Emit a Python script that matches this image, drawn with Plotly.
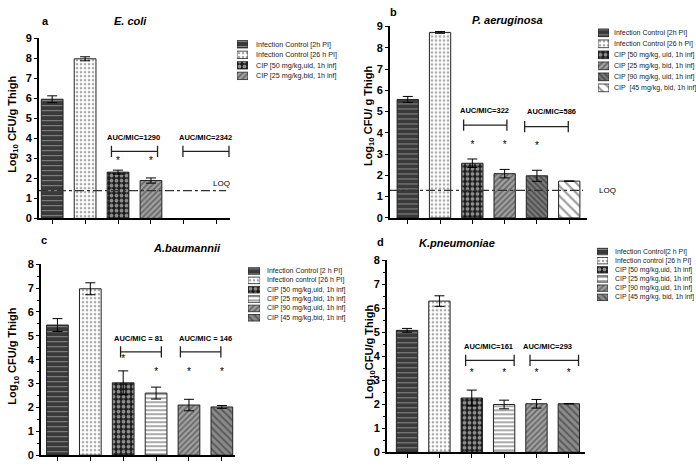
import plotly.graph_objects as go

W, H = 696, 467
FONT = "Liberation Sans, Arial, sans-serif"

# ---------------- data ----------------
a_labels = ["Infection Control [2h PI]", "Infection Control [26 h PI]",
            "CIP [50 mg/kg,uid, 1h inf]", "CIP [25 mg/kg,bid, 1h inf]"]
a_means = [5.95, 7.97, 2.31, 1.89]
a_errs = [0.17, 0.10, 0.10, 0.13]
a_star_x = [2, 3]
a_star_y = [2.86, 2.86]
a_auc_text = ["AUC/MIC=1290", "AUC/MIC=2342"]
a_auc_x = [2.47, 4.65]
a_auc_y = [4.04, 4.04]
a_br_x0 = [1.8, 3.97]
a_br_x1 = [3.2, 5.37]
a_br_y = [3.35, 3.35]
a_loq = 1.39

b_labels = ["Infection Control [2h PI]", "Infection Control [26 h PI]",
            "CIP [50 mg/kg, uid, 1h inf]", "CIP [25 mg/kg, bid, 1h inf]",
            "CIP [90 mg/kg, uid, 1h inf]", "CIP  [45 mg/kg, bid, 1h inf]"]
b_means = [5.57, 8.72, 2.57, 2.08, 1.98, 1.73]
b_errs = [0.14, 0.04, 0.20, 0.20, 0.26, 0.0]
b_star_x = [2, 3, 4]
b_star_y = [3.41, 3.41, 3.35]
b_auc_text = ["AUC/MIC=322", "AUC/MIC=586"]
b_auc_x = [2.38, 4.45]
b_auc_y = [5.05, 5.0]
b_br_x0 = [1.73, 3.62]
b_br_x1 = [3.07, 4.97]
b_br_y = [4.36, 4.29]
b_loq = 1.29

c_labels = ["Infection Control [2 h PI]", "Infection control [26 h PI]",
            "CIP [50 mg/kg,uid, 1h inf]", "CIP [25 mg/kg,bid, 1h inf]",
            "CIP [90 mg/kg,uid, 1h inf]", "CIP [45 mg/kg,bid, 1h inf]"]
c_means = [5.45, 6.97, 3.03, 2.60, 2.10, 2.02]
c_errs = [0.27, 0.25, 0.50, 0.25, 0.24, 0.06]
c_star_x = [2, 3, 4, 5]
c_star_y = [4.0, 3.47, 3.47, 3.47]
c_auc_text = ["AUC/MIC = 81", "AUC/MIC = 146"]
c_auc_x = [2.47, 4.5]
c_auc_y = [4.9, 4.9]
c_br_x0 = [1.92, 3.74]
c_br_x1 = [3.16, 4.97]
c_br_y = [4.33, 4.33]

d_labels = ["Infection Control[2 h PI]", "Infection control [26 h PI]",
            "CIP [50 mg/kg,uid, 1h inf]", "CIP [25 mg/kg,bid, 1h inf]",
            "CIP [90 mg/kg,uid, 1h inf]", "CIP [45 mg/kg, bid, 1h inf]"]
d_means = [5.08, 6.30, 2.26, 1.99, 2.02, 2.02]
d_errs = [0.08, 0.22, 0.33, 0.18, 0.18, 0.0]
d_star_x = [2, 3, 4, 5]
d_star_y = [3.3, 3.3, 3.3, 3.3]
d_auc_text = ["AUC/MIC=161", "AUC/MIC=293"]
d_auc_x = [2.52, 4.35]
d_auc_y = [4.4, 4.4]
d_br_x0 = [1.81, 3.8]
d_br_x1 = [3.31, 5.3]
d_br_y = [3.83, 3.83]

# ---------------- bar fill styles ----------------
DARK_GRID = dict(shape="-", fg="#d8d8d8", bg="#3a3a3a", size=5, sol=0.2)
WHITE_DOTS = dict(shape=".", fg="#555555", bg="#ffffff", size=4, sol=0.35)
CHECK = dict(shape=".", fg="#ffffff", bg="#1a1a1a", size=5, sol=0.45)
DIAG = dict(shape="/", fg="#2a2a2a", bg="#a0a0a0", size=4, sol=0.4)
BACK_DARK = dict(shape="\\", fg="#1e1e1e", bg="#7a7a7a", size=4, sol=0.45)
BACK_WHITE = dict(shape="\\", fg="#333333", bg="#ffffff", size=7, sol=0.3)
HSTRIPE = dict(shape="-", fg="#2a2a2a", bg="#ffffff", size=4, sol=0.4)
BACK_GREY = dict(shape="\\", fg="#2a2a2a", bg="#8a8a8a", size=5, sol=0.4)

panels = [
    dict(tag="a", title="E. coli", ytitle="Log<sub>10</sub> CFU/g Thigh",
         labels=a_labels, means=a_means, errs=a_errs, ymax=9,
         styles=[DARK_GRID, WHITE_DOTS, CHECK, DIAG],
         star_x=a_star_x, star_y=a_star_y, auc_text=a_auc_text, auc_x=a_auc_x, auc_y=a_auc_y,
         br_x0=a_br_x0, br_x1=a_br_x1, br_y=a_br_y, loq=a_loq,
         px=(39, 230), py=(218, 33), xr=[-0.4, 5.4],
         tag_xy=(40, 15), title_xy=(130, 15), ytitle_xy=(13, 122),
         leg_sw=(237, 248), leg_tx=254, leg_y0=39.3, leg_dy=10.8, leg_fs=7.2),
    dict(tag="b", title="P. aeruginosa", ytitle="Log<sub>10</sub> CFU/ g Thigh",
         labels=b_labels, means=b_means, errs=b_errs, ymax=9,
         styles=[DARK_GRID, WHITE_DOTS, CHECK, DIAG, BACK_DARK, BACK_WHITE],
         star_x=b_star_x, star_y=b_star_y, auc_text=b_auc_text, auc_x=b_auc_x, auc_y=b_auc_y,
         br_x0=b_br_x0, br_x1=b_br_x1, br_y=b_br_y, loq=b_loq,
         px=(390, 587), py=(217.5, 21), xr=[-0.55, 5.55],
         tag_xy=(388, 6), title_xy=(507, 14), ytitle_xy=(369, 113),
         leg_sw=(598, 609), leg_tx=612, leg_y0=27.5, leg_dy=11.3, leg_fs=7.0),
    dict(tag="c", title="A.baumannii", ytitle="Log<sub>10</sub> CFU/g Thigh",
         labels=c_labels, means=c_means, errs=c_errs, ymax=8,
         styles=[DARK_GRID, WHITE_DOTS, CHECK, HSTRIPE, DIAG, BACK_GREY],
         star_x=c_star_x, star_y=c_star_y, auc_text=c_auc_text, auc_x=c_auc_x, auc_y=c_auc_y,
         br_x0=c_br_x0, br_x1=c_br_x1, br_y=c_br_y, loq=None,
         px=(41, 235), py=(461, 265), xr=[-0.5, 5.4],
         tag_xy=(39, 240), title_xy=(187, 248), ytitle_xy=(13, 360),
         leg_sw=(248, 260), leg_tx=265, leg_y0=272, leg_dy=9.6, leg_fs=7.0),
    dict(tag="d", title="K.pneumoniae", ytitle="Log<sub>10</sub>CFU/g Thigh",
         labels=d_labels, means=d_means, errs=d_errs, ymax=8,
         styles=[DARK_GRID, WHITE_DOTS, CHECK, HSTRIPE, DIAG, BACK_GREY],
         star_x=d_star_x, star_y=d_star_y, auc_text=d_auc_text, auc_x=d_auc_x, auc_y=d_auc_y,
         br_x0=d_br_x0, br_x1=d_br_x1, br_y=d_br_y, loq=None,
         px=(387, 585), py=(458, 261), xr=[-0.62, 5.5],
         tag_xy=(375, 242), title_xy=(457, 243), ytitle_xy=(370, 355),
         leg_sw=(597, 608), leg_tx=613, leg_y0=252, leg_dy=9.4, leg_fs=6.9),
]


def marker_for(s, lw):
    return dict(color=s["bg"], line=dict(color="#222222", width=lw),
                pattern=dict(shape=s["shape"], fgcolor=s["fg"], bgcolor=s["bg"],
                             size=s["size"], solidity=s["sol"], fillmode="overlay"))


def suffix(n):
    return "" if n == 1 else str(n)


fig = go.Figure()
layout = dict(width=W, height=H, margin=dict(l=0, r=0, t=0, b=0),
              paper_bgcolor="white", plot_bgcolor="white", showlegend=False,
              barmode="overlay", font=dict(family=FONT, color="black"))
annotations = []
shapes = []

for i, p in enumerate(panels):
    n = i + 1
    ln = i + 5
    xa, ya = "x" + suffix(n), "y" + suffix(n)
    lxa, lya = "x" + suffix(ln), "y" + suffix(ln)
    nb = len(p["means"])

    for k in range(nb):
        # main bar
        fig.add_trace(go.Bar(
            x=[k], y=[p["means"][k]], width=0.66, name=p["labels"][k],
            error_y=dict(type="data", array=[p["errs"][k]], color="black", thickness=1, width=5),
            marker=marker_for(p["styles"][k], 1), xaxis=xa, yaxis=ya))
        # legend swatch
        fig.add_trace(go.Bar(
            y=[k], x=[1], orientation="h", width=0.7, name=p["labels"][k],
            marker=marker_for(p["styles"][k], 0.8), xaxis=lxa, yaxis=lya, hoverinfo="skip"))
        annotations.append(dict(text=p["labels"][k], x=p["leg_tx"] / W, y=k, xref="paper",
                                yref=lya, xanchor="left", yanchor="middle", showarrow=False,
                                font=dict(size=p["leg_fs"], color="#222222")))

    # significance stars
    fig.add_trace(go.Scatter(
        x=p["star_x"], y=p["star_y"], mode="text", text=["*"] * len(p["star_x"]),
        textfont=dict(size=10, color="black"), xaxis=xa, yaxis=ya, hoverinfo="skip"))

    # AUC/MIC brackets
    for x0, x1, yb in zip(p["br_x0"], p["br_x1"], p["br_y"]):
        fig.add_trace(go.Scatter(
            x=[x0, x1], y=[yb, yb], mode="lines+markers",
            line=dict(color="#222222", width=1.3),
            marker=dict(symbol="line-ns-open", size=8, line=dict(color="#222222", width=1.3)),
            xaxis=xa, yaxis=ya, hoverinfo="skip"))
    for t, xt, yt in zip(p["auc_text"], p["auc_x"], p["auc_y"]):
        annotations.append(dict(text=f"<b>{t}</b>", x=xt, y=yt, xref=xa, yref=ya,
                                showarrow=False, font=dict(size=7.5)))

    # axes
    x0p, x1p = p["px"]
    y0p, ytp = p["py"]
    layout["xaxis" + suffix(n)] = dict(
        domain=[x0p / W, x1p / W], range=p["xr"], anchor=ya,
        tickvals=list(range(6)), showticklabels=False, ticks="outside", ticklen=4,
        tickwidth=1.2, tickcolor="black", showline=True, linewidth=2, linecolor="black",
        showgrid=False, zeroline=False, fixedrange=True)
    yax = dict(
        domain=[1 - y0p / H, 1 - ytp / H], range=[0, p["ymax"]], anchor=xa, dtick=1,
        ticks="outside", ticklen=3, tickwidth=1.2, tickcolor="black",
        showline=True, linewidth=2, linecolor="black", showgrid=False, zeroline=False,
        tickfont=dict(size=11, color="black", weight="bold"), fixedrange=True)
    if p["ymax"] == 8:
        yax["minor"] = dict(ticks="outside", ticklen=2, dtick=0.5, tickcolor="black")
    layout["yaxis" + suffix(n)] = yax

    sw0, sw1 = p["leg_sw"]
    top = p["leg_y0"] - p["leg_dy"] / 2
    bot = p["leg_y0"] + p["leg_dy"] * (nb - 0.5)
    layout["xaxis" + suffix(ln)] = dict(domain=[sw0 / W, sw1 / W], range=[0, 1], anchor=lya,
                                        visible=False, fixedrange=True)
    layout["yaxis" + suffix(ln)] = dict(domain=[1 - bot / H, 1 - top / H],
                                        range=[nb - 0.5, -0.5], anchor=lxa,
                                        visible=False, fixedrange=True)

    # LOQ line
    if p["loq"] is not None:
        shapes.append(dict(type="line", xref=xa + " domain", yref=ya, x0=0, x1=0.98,
                           y0=p["loq"], y1=p["loq"],
                           line=dict(color="#333333", width=1.2, dash="dashdot")))

    # titles
    tx, ty = p["tag_xy"]
    annotations.append(dict(text=f"<b>{p['tag']}</b>", x=tx / W, y=1 - ty / H, xref="paper",
                            yref="paper", xanchor="left", yanchor="middle", showarrow=False,
                            font=dict(size=11)))
    tx, ty = p["title_xy"]
    annotations.append(dict(text=f"<b><i>{p['title']}</i></b>", x=tx / W, y=1 - ty / H,
                            xref="paper", yref="paper", xanchor="center", yanchor="middle",
                            showarrow=False, font=dict(size=11)))
    tx, ty = p["ytitle_xy"]
    annotations.append(dict(text=f"<b>{p['ytitle']}</b>", x=tx / W, y=1 - ty / H,
                            xref="paper", yref="paper", xanchor="center", yanchor="middle",
                            textangle=-90, showarrow=False, font=dict(size=11)))

# LOQ labels
annotations.append(dict(text="LOQ", x=5.15, y=1.73, xref="x", yref="y", showarrow=False,
                        font=dict(size=8)))
annotations.append(dict(text="LOQ", x=597 / W, y=b_loq, xref="paper", yref="y2",
                        xanchor="left", yanchor="middle", showarrow=False, font=dict(size=8)))

layout["annotations"] = annotations
layout["shapes"] = shapes
fig.update_layout(**layout)
fig.write_html("out.html", config={"displayModeBar": False},
               post_script="document.body.style.margin='0px';")
